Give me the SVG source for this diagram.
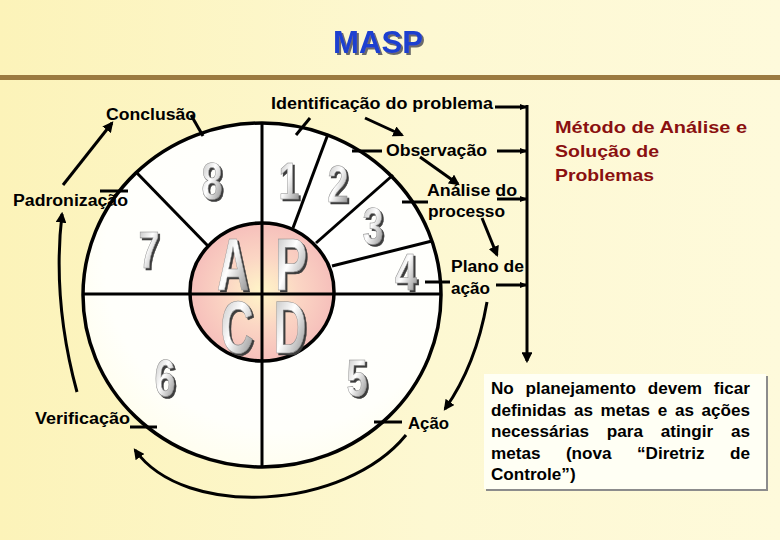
<svg xmlns="http://www.w3.org/2000/svg" width="780" height="540" viewBox="0 0 780 540">
<defs>
  <linearGradient id="bg" x1="0" y1="0" x2="1" y2="0">
    <stop offset="0" stop-color="#fcf3b9"/>
    <stop offset="0.55" stop-color="#fdf8d2"/>
    <stop offset="1" stop-color="#fefadb"/>
  </linearGradient>
  <radialGradient id="ring" cx="0.55" cy="0.4" r="0.7">
    <stop offset="0" stop-color="#ffffff"/>
    <stop offset="0.7" stop-color="#fffffb"/>
    <stop offset="1" stop-color="#fffde6"/>
  </radialGradient>
  <radialGradient id="hub" cx="0.5" cy="0.5" r="0.5">
    <stop offset="0" stop-color="#fff6c8"/>
    <stop offset="0.5" stop-color="#fbd6c4"/>
    <stop offset="1" stop-color="#f6bfbb"/>
  </radialGradient>
  <linearGradient id="metal" x1="0" y1="0" x2="1" y2="1">
    <stop offset="0" stop-color="#b5b5b5"/>
    <stop offset="0.45" stop-color="#ffffff"/>
    <stop offset="1" stop-color="#7a7a7a"/>
  </linearGradient>
  <filter id="ds" x="-20%" y="-20%" width="150%" height="150%">
    <feDropShadow dx="2" dy="2" stdDeviation="0.4" flood-color="#3c3c3c" flood-opacity="1"/>
  </filter>
  <filter id="dsT" x="-10%" y="-20%" width="130%" height="150%">
    <feDropShadow dx="2" dy="2" stdDeviation="0.3" flood-color="#6a6a6a" flood-opacity="1"/>
  </filter>
  <marker id="ah" viewBox="0 0 10 10" refX="8" refY="5" markerWidth="3.6" markerHeight="3.6" orient="auto">
    <path d="M0,0 L10,5 L0,10 Z" fill="#000"/>
  </marker>
  <marker id="ahs" viewBox="0 0 10 10" refX="9" refY="5" markerWidth="2.6" markerHeight="2.6" orient="auto">
    <path d="M0,1 L10,5 L0,9 Z" fill="#000"/>
  </marker>
  <style>
    .lbl{font-family:"Liberation Sans",Arial,sans-serif;font-weight:bold;font-size:16px;fill:#000}
    .red{font-family:"Liberation Sans",Arial,sans-serif;font-weight:bold;font-size:17px;fill:#8a1010}
    .box{font-family:"Liberation Sans",Arial,sans-serif;font-weight:bold;font-size:16px;fill:#000}
    .dig{font-family:"Liberation Sans",Arial,sans-serif;font-weight:bold;font-size:52px;text-anchor:middle}
    .let{font-family:"Liberation Sans",Arial,sans-serif;font-weight:bold;font-size:74px;text-anchor:middle}
    .mt{fill:url(#metal);stroke:#8a8a8a;stroke-width:0.6;filter:url(#ds)}
    .ln{stroke:#000;stroke-width:3;fill:none;stroke-linecap:butt}
    .arr{stroke:#000;stroke-width:3;fill:none;marker-end:url(#ah)}
    .arrs{stroke:#000;stroke-width:3;fill:none;marker-end:url(#ahs)}
  </style>
</defs>

<rect x="0" y="0" width="780" height="540" fill="url(#bg)"/>

<g id="title">
  <text x="378" y="53" font-family="Liberation Sans,Arial,sans-serif" font-weight="bold" font-size="31" text-anchor="middle" fill="#1f3fd0" filter="url(#dsT)" textLength="90" lengthAdjust="spacingAndGlyphs">MASP</text>
  <rect x="0" y="75" width="780" height="5" fill="#9b7a40"/>
</g>

<g id="wheel">
  <ellipse cx="262" cy="295" rx="179" ry="172" fill="url(#ring)" stroke="#000" stroke-width="3.5"/>
  <line class="ln" x1="136" y1="172" x2="208" y2="246"/>
  <line class="ln" x1="328" y1="134" x2="293" y2="228"/>
  <line class="ln" x1="393" y1="175" x2="316" y2="243"/>
  <line class="ln" x1="432" y1="241" x2="332" y2="266"/>
  <ellipse cx="262" cy="292" rx="72" ry="69" fill="url(#hub)" stroke="#000" stroke-width="3.5"/>
  <line class="ln" x1="83" y1="294" x2="441" y2="294"/>
  <line class="ln" x1="262" y1="123" x2="262" y2="467"/>
</g>

<g id="pdca">
  <text class="let mt" x="233" y="290" textLength="32" lengthAdjust="spacingAndGlyphs">A</text>
  <text class="let mt" x="291" y="290" textLength="32" lengthAdjust="spacingAndGlyphs">P</text>
  <text class="let mt" x="237" y="353" textLength="33" lengthAdjust="spacingAndGlyphs">C</text>
  <text class="let mt" x="290" y="353" textLength="33" lengthAdjust="spacingAndGlyphs">D</text>
</g>

<g id="steps">
  <text class="dig mt" x="212" y="199" textLength="21" lengthAdjust="spacingAndGlyphs">8</text>
  <text class="dig mt" x="289" y="199" textLength="21" lengthAdjust="spacingAndGlyphs">1</text>
  <text class="dig mt" x="338" y="202" textLength="21" lengthAdjust="spacingAndGlyphs">2</text>
  <text class="dig mt" x="373" y="244" textLength="21" lengthAdjust="spacingAndGlyphs">3</text>
  <text class="dig mt" x="406" y="290" textLength="22" lengthAdjust="spacingAndGlyphs">4</text>
  <text class="dig mt" x="149" y="268" textLength="21" lengthAdjust="spacingAndGlyphs">7</text>
  <text class="dig mt" x="165" y="396" textLength="21" lengthAdjust="spacingAndGlyphs">6</text>
  <text class="dig mt" x="357" y="396" textLength="21" lengthAdjust="spacingAndGlyphs">5</text>
</g>

<g id="label-identificacao"><text class="lbl" x="271" y="109" textLength="222" lengthAdjust="spacingAndGlyphs">Identificação do problema</text></g>
<g id="label-conclusao"><text class="lbl" x="106" y="120" textLength="90" lengthAdjust="spacingAndGlyphs">Conclusão</text></g>
<g id="label-padronizacao"><text class="lbl" x="13" y="206" textLength="115" lengthAdjust="spacingAndGlyphs">Padronização</text></g>
<g id="label-observacao"><text class="lbl" x="386" y="156" textLength="101" lengthAdjust="spacingAndGlyphs">Observação</text></g>
<g id="label-analise">
  <text class="lbl" x="427" y="196" textLength="90" lengthAdjust="spacingAndGlyphs">Análise do</text>
  <text class="lbl" x="428" y="217" textLength="77" lengthAdjust="spacingAndGlyphs">processo</text>
</g>
<g id="label-plano">
  <text class="lbl" x="451" y="272" textLength="73" lengthAdjust="spacingAndGlyphs">Plano de</text>
  <text class="lbl" x="451" y="294" textLength="39" lengthAdjust="spacingAndGlyphs">ação</text>
</g>
<g id="label-verificacao"><text class="lbl" x="35" y="424" textLength="95" lengthAdjust="spacingAndGlyphs">Verificação</text></g>
<g id="label-acao"><text class="lbl" x="408" y="429" textLength="41" lengthAdjust="spacingAndGlyphs">Ação</text></g>

<g id="masp-name">
  <text class="red" x="555" y="133" textLength="192" lengthAdjust="spacingAndGlyphs">Método de Análise e</text>
  <text class="red" x="555" y="157" textLength="104" lengthAdjust="spacingAndGlyphs">Solução de</text>
  <text class="red" x="555" y="181" textLength="99" lengthAdjust="spacingAndGlyphs">Problemas</text>
</g>

<g id="note">
  <rect x="486" y="376" width="282" height="115" fill="#8c8c8c"/>
  <rect x="484" y="374" width="282" height="115" fill="#fffff4"/>
  <text class="box" x="491" y="394" textLength="22.8" lengthAdjust="spacingAndGlyphs">No</text>
  <text class="box" x="525.6" y="394" textLength="110.4" lengthAdjust="spacingAndGlyphs">planejamento</text>
  <text class="box" x="647.8" y="394" textLength="54.2" lengthAdjust="spacingAndGlyphs">devem</text>
  <text class="box" x="713.8" y="394" textLength="36.2" lengthAdjust="spacingAndGlyphs">ficar</text>

  <text class="box" x="491" y="415.5" textLength="75.2" lengthAdjust="spacingAndGlyphs">definidas</text>
  <text class="box" x="573.9" y="415.5" textLength="19" lengthAdjust="spacingAndGlyphs">as</text>
  <text class="box" x="600.5" y="415.5" textLength="49.5" lengthAdjust="spacingAndGlyphs">metas</text>
  <text class="box" x="657.7" y="415.5" textLength="9.5" lengthAdjust="spacingAndGlyphs">e</text>
  <text class="box" x="674.9" y="415.5" textLength="19" lengthAdjust="spacingAndGlyphs">as</text>
  <text class="box" x="701.5" y="415.5" textLength="48.5" lengthAdjust="spacingAndGlyphs">ações</text>

  <text class="box" x="491" y="437" textLength="98" lengthAdjust="spacingAndGlyphs">necessárias</text>
  <text class="box" x="606.8" y="437" textLength="36.2" lengthAdjust="spacingAndGlyphs">para</text>
  <text class="box" x="660.8" y="437" textLength="52.3" lengthAdjust="spacingAndGlyphs">atingir</text>
  <text class="box" x="731" y="437" textLength="19" lengthAdjust="spacingAndGlyphs">as</text>

  <text class="box" x="491" y="458.5" textLength="49.5" lengthAdjust="spacingAndGlyphs">metas</text>
  <text class="box" x="565.9" y="458.5" textLength="45.7" lengthAdjust="spacingAndGlyphs">(nova</text>
  <text class="box" x="637" y="458.5" textLength="67.5" lengthAdjust="spacingAndGlyphs">“Diretriz</text>
  <text class="box" x="730" y="458.5" textLength="20" lengthAdjust="spacingAndGlyphs">de</text>

  <text class="box" x="491" y="480" textLength="84.6" lengthAdjust="spacingAndGlyphs">Controle”)</text>
</g>

<g id="connectors">
  <line class="ln" x1="191" y1="115" x2="203" y2="136"/>
  <line class="ln" x1="296" y1="135" x2="310" y2="118"/>
  <line class="ln" x1="352" y1="151" x2="382" y2="151"/>
  <line class="ln" x1="402" y1="202" x2="428" y2="202"/>
  <line class="ln" x1="425" y1="282" x2="450" y2="282"/>
  <line class="ln" x1="374" y1="422" x2="402" y2="422"/>
  <line class="ln" x1="130" y1="427" x2="157" y2="427"/>
  <line class="ln" x1="100" y1="191" x2="128" y2="191"/>
  <path class="arr" d="M63,185 L112,123"/>
  <path class="arr" d="M77,392 Q52,300 62,214"/>
  <path class="arr" d="M406,435 C345,510 185,520 135,450"/>
  <path class="arr" d="M487,302 Q476,365 445,409"/>
  <path class="arr" d="M365,118 L402,135"/>
  <path class="arr" d="M420,157 L458,184"/>
  <path class="arr" d="M482,218 L497,255"/>
  <path class="arr" d="M527,105 L527,361"/>
  <path class="arrs" d="M495,107 L527,107"/>
  <path class="arrs" d="M497,151 L527,151"/>
  <path class="arrs" d="M497,199 L527,199"/>
  <path class="arrs" d="M496,285 L527,285"/>
</g>
</svg>
